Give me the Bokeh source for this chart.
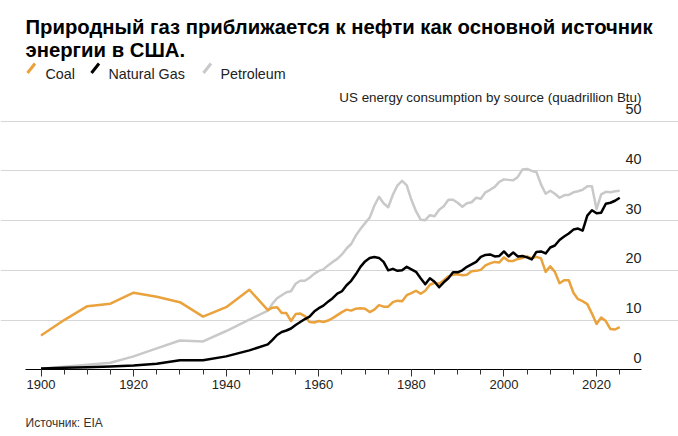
from bokeh.plotting import figure
from bokeh.models import Range1d, FixedTicker, Label, Grid, ColumnDataSource, PolyAnnotation
from bokeh.core.properties import value
from bokeh.embed import file_html
from bokeh.resources import INLINE

# years: every 5 years to 1945, then annual from 1949
years = [1900, 1905, 1910, 1915, 1920, 1925, 1930, 1935, 1940, 1945] + list(range(1949, 2026))

# quadrillion Btu
coal = [6.9, 10.0, 12.8, 13.3, 15.5, 14.7, 13.6, 10.7, 12.6, 16.1,
        12.0,
        12.5, 12.6, 11.4, 11.4, 9.8, 11.2, 11.3, 10.8, 9.6, 9.5,
        9.8, 9.6, 9.9, 10.4, 11.0, 11.6, 12.1, 11.9, 12.3, 12.4,
        12.3, 11.6, 12.1, 13.0, 12.7, 12.7, 13.6, 13.9, 13.8, 15.0,
        15.4, 15.9, 15.3, 15.9, 17.1, 17.5, 17.3, 18.0, 18.8, 19.1,
        19.2, 19.0, 19.1, 19.8, 19.9, 20.1, 21.0, 21.4, 21.7, 21.6,
        22.6, 21.9, 21.9, 22.3, 22.5, 22.8, 22.4, 22.7, 22.4, 19.7,
        20.8, 19.7, 17.4, 18.0, 18.0, 15.5, 14.2, 13.8, 13.2, 11.3,
        9.2, 10.5, 9.8, 8.2, 8.1, 8.6]

natural_gas = [0.25, 0.4, 0.5, 0.65, 0.85, 1.2, 1.9, 1.9, 2.7, 3.9,
               5.1,
               6.0, 7.0, 7.6, 7.9, 8.3, 9.0, 9.6, 10.2, 10.7, 11.7,
               12.4, 12.9, 13.7, 14.4, 15.3, 15.8, 17.0, 17.9, 19.2, 20.7,
               21.8, 22.5, 22.7, 22.5, 21.7, 20.0, 20.3, 19.9, 20.0, 20.7,
               20.2, 19.7, 18.4, 17.2, 18.4, 17.7, 16.6, 17.6, 18.4, 19.6,
               19.6, 20.0, 20.7, 21.2, 21.7, 22.7, 23.1, 23.2, 22.8, 22.9,
               23.8, 22.8, 23.6, 22.8, 22.9, 22.6, 22.2, 23.7, 23.8, 23.4,
               24.6, 25.0, 26.1, 26.8, 27.4, 28.2, 28.4, 28.0, 31.0, 32.1,
               31.5, 31.6, 33.4, 33.6, 34.0, 34.6]

petroleum = [0.2, 0.6, 1.0, 1.4, 2.7, 4.3, 5.9, 5.7, 7.8, 10.1,
             11.9,
             13.3, 14.4, 15.0, 15.6, 15.8, 17.3, 17.9, 17.9, 18.5, 19.3,
             19.9, 20.2, 21.0, 21.7, 22.3, 23.2, 24.4, 25.3, 27.0, 28.3,
             29.5, 30.6, 33.0, 34.8, 33.5, 32.7, 35.2, 37.1, 38.0, 37.1,
             34.2, 31.9, 30.2, 30.1, 31.1, 30.9, 32.2, 32.9, 34.2, 34.2,
             33.6, 32.8, 33.5, 33.7, 34.6, 34.4, 35.7, 36.2, 36.8, 37.8,
             38.3, 38.2, 38.1, 38.8, 40.3, 40.4, 40.0, 39.8, 37.3, 35.4,
             36.0, 35.4, 34.6, 35.1, 35.2, 35.7, 35.9, 36.2, 36.9, 36.9,
             32.3, 35.3, 35.8, 35.7, 35.9, 36.0]

x_labels = [1900, 1920, 1940, 1960, 1980, 2000, 2020]
x_minor = list(range(1900, 2030, 5))
y_ticks = [0, 10, 20, 30, 40, 50]

COAL = '#EAA23C'
GAS = '#000000'
OIL = '#C9C9C9'
FONT = 'Liberation Sans'

# the frame covers the whole canvas; the x axis is pinned at y=0 so
# headline, legend and source note can all sit inside the frame
X0, X1 = 1896.65, 2029.7
p = figure(width=678, height=436, x_range=Range1d(1891.25, 2037.7), y_range=Range1d(-13.42, 74.28),
           y_axis_location=None, output_backend='svg', toolbar_location=None,
           min_border_left=0, min_border_right=0, min_border_top=0, min_border_bottom=0)
p.outline_line_color = None
p.xgrid.visible = False
p.ygrid.visible = False
p.add_layout(Grid(dimension=1, ticker=FixedTicker(ticks=y_ticks[1:]), bounds=(X0, X1),
                  grid_line_color='#D6D6D6', grid_line_width=1.2))

ax = p.xaxis[0]
ax.fixed_location = 0
ax.bounds = (X0, X1)
ax.ticker = FixedTicker(ticks=x_labels, minor_ticks=x_minor)
ax.axis_line_color = 'black'
ax.major_tick_in = 0
ax.major_tick_out = 7
ax.minor_tick_in = 0
ax.minor_tick_out = 5
ax.major_tick_line_color = '#333333'
ax.minor_tick_line_color = '#333333'
ax.major_label_text_font = FONT
ax.major_label_text_font_size = '13px'
ax.major_label_text_color = '#222222'
ax.major_label_standoff = 3

p.line(years, petroleum, line_color=OIL, line_width=2.5, line_join='round')
p.line(years, coal, line_color=COAL, line_width=2.5, line_join='round')
p.line(years, natural_gas, line_color=GAS, line_width=2.5, line_join='round')

# y tick labels sit above their gridlines on the right
ysrc = ColumnDataSource(data={'x': [X1] * len(y_ticks), 'y': y_ticks,
                              'txt': [str(v) for v in y_ticks]})
p.text(x='x', y='y', text='txt', source=ysrc, text_align='right', text_baseline='alphabetic',
       y_offset=-12, text_font=value(FONT), text_font_size='14.4px', text_color='#222222')

def canvas_label(x, y, text, size, color='#222222', bold=False, align='left'):
    p.add_layout(Label(x=x, y=y, x_units='canvas', y_units='canvas', text=text,
                       text_font=FONT, text_font_size=size, text_color=color,
                       text_font_style='bold' if bold else 'normal',
                       text_align=align, text_baseline='alphabetic'))

canvas_label(25, 26, 'Природный газ приближается к нефти как основной источник', '20.3px', 'black', True)
canvas_label(25, 49, 'энергии в США.', '20.3px', 'black', True)

# legend: short slashes + names
for sx, tx, name, col in [(26, 45, 'Coal', COAL), (90, 108, 'Natural Gas', GAS), (202, 220, 'Petroleum', OIL)]:
    p.add_layout(PolyAnnotation(xs=[sx + 1, sx + 8.5], ys=[72.5, 63], xs_units='canvas', ys_units='canvas',
                                line_color=col, line_alpha=1.0, line_width=3, fill_alpha=0))
    canvas_label(tx, 73, name, '14.3px')

canvas_label(641, 97, 'US energy consumption by source (quadrillion Btu)', '13.4px', align='right')
canvas_label(25, 422, 'Источник: EIA', '12px', '#333333')

open('out.html', 'w').write(file_html(p, INLINE))
